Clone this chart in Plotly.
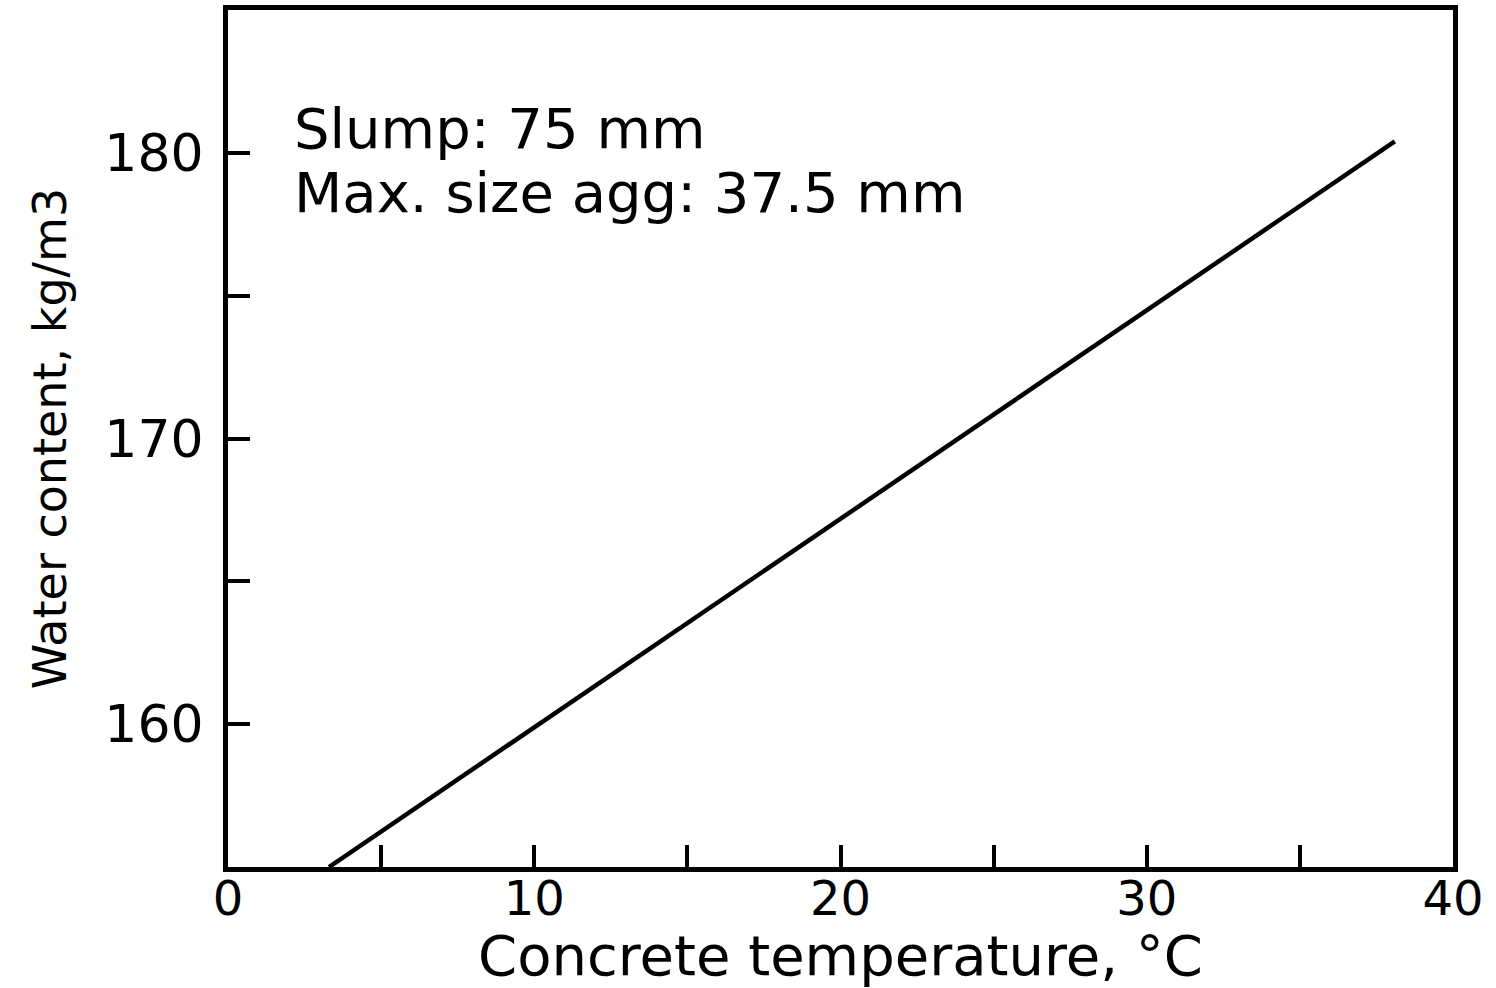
import plotly.graph_objects as go

# Data
temperature_c = [3.3, 38.1]          # Concrete temperature, °C
water_content = [155.0, 180.4]       # Water content, kg/m3

x_tickvals = [0, 10, 20, 30, 40]
y_tickvals = [160, 170, 180]
notes = ["Slump: 75 mm", "Max. size agg: 37.5 mm"]

FONT = "DejaVu Sans"

fig = go.Figure()
fig.add_trace(go.Scatter(
    x=temperature_c, y=water_content, mode="lines",
    line=dict(color="black", width=4.5), showlegend=False, hoverinfo="skip",
))

axis_common = dict(
    showgrid=False, zeroline=False,
    showline=True, linecolor="black", linewidth=5, mirror=True,
    ticks="inside", ticklen=22, tickwidth=4, tickcolor="black",
)

fig.update_xaxes(
    range=[0, 40], tickvals=x_tickvals,
    minor=dict(dtick=5, ticks="inside", ticklen=22, tickwidth=4, tickcolor="black", showgrid=False),
    ticklabelstandoff=-15,
    tickfont=dict(family=FONT, size=48, color="black"),
    title=dict(text="Concrete temperature, °C", font=dict(family=FONT, size=56, color="black"), standoff=10),
    **axis_common,
)
fig.update_yaxes(
    range=[155.0, 185.0], tickvals=y_tickvals,
    minor=dict(dtick=5, ticks="inside", ticklen=22, tickwidth=4, tickcolor="black", showgrid=False),
    ticklabelstandoff=9,
    tickfont=dict(family=FONT, size=52, color="black"),
    title=dict(text="Water content, kg/m3", font=dict(family=FONT, size=46, color="black"), standoff=25),
    **axis_common,
)

for txt, yv in zip(notes, [180.85, 178.6]):
    fig.add_annotation(
        x=2.1, y=yv, xref="x", yref="y", text=txt, showarrow=False,
        xanchor="left", yanchor="middle",
        font=dict(family=FONT, size=56, color="black"),
    )

fig.update_layout(
    width=1496, height=988,
    margin=dict(l=228, r=43, t=10, b=121, autoexpand=False),
    paper_bgcolor="white", plot_bgcolor="white",
)

fig.write_html("out.html")
